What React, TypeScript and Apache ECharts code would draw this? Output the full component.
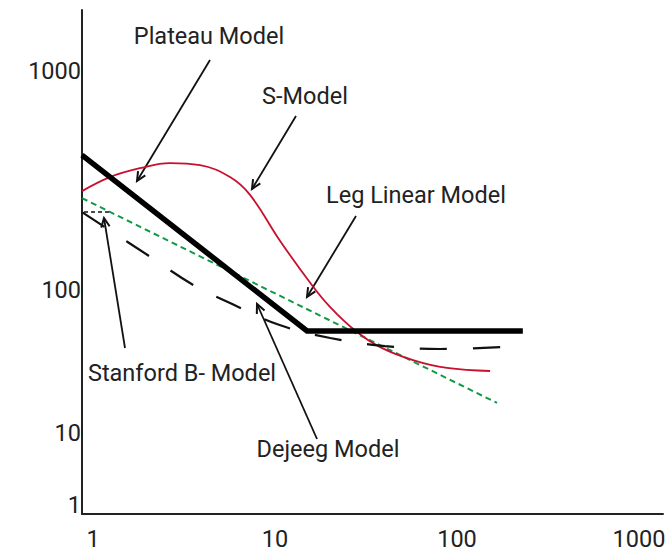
import React, { useEffect, useRef } from "react";
import * as echarts from "echarts";

// ---- data (log-log axes) ----
const plateauX = [0.87, 15, 230];
const plateauY = [413, 65, 65];

const sModelX = [0.87, 1.24, 1.81, 2.65, 3.87, 5.66, 7.29, 10.6, 15.6, 20.1, 28.2, 37.8, 57.3, 88.1, 152];
const sModelY = [283, 328, 360, 380, 372, 328, 272, 169, 108, 83.6, 64.3, 54.9, 47.9, 44.1, 42.7];

const legLinearX = [0.87, 166];
const legLinearY = [263, 30.5];

const dejeegX = [0.87, 2.06, 3.59, 5.66, 10.6, 20.1, 40.2, 80.7, 179];
const dejeegY = [227, 142, 105, 87.2, 69.2, 60.4, 55.5, 53.8, 54.9];

const stanfordX = [0.817, 1.27];
const stanfordY = [227, 227];

const xTickLabels = ["1", "10", "100", "1000"];
const yExtraLabels = ["10", "1"];

// ---- layout (pixels) ----
const W = 668;
const H = 554;
const FONT = "Roboto, 'Noto Sans', sans-serif";
const FS = 23.5;
const TXT = "#222";

const annotations = [
  { text: "Plateau Model", x: 209, y: 36, tail: [210, 60], head: [137, 181] },
  { text: "S-Model", x: 305, y: 96, tail: [296, 116], head: [252, 189] },
  { text: "Leg Linear Model", x: 416, y: 195, tail: [356, 216], head: [307, 297] },
  { text: "Stanford B- Model", x: 182, y: 373, tail: [125, 348], head: [104, 218] },
  { text: "Dejeeg Model", x: 328, y: 449, tail: [317, 439], head: [257, 304] },
];
const yExtraPos = [
  { x: 81, y: 433 },
  { x: 81, y: 505 },
];

const zip = (xs: number[], ys: number[]) => xs.map((x, i) => [x, ys[i]]);

function arrow(tail: number[], head: number[]) {
  const dx = head[0] - tail[0];
  const dy = head[1] - tail[1];
  const len = Math.hypot(dx, dy);
  const ux = dx / len;
  const uy = dy / len;
  const L = 10;
  const a = (25 * Math.PI) / 180;
  const rot = (ang: number) => [
    head[0] - L * (ux * Math.cos(ang) - uy * Math.sin(ang)),
    head[1] - L * (ux * Math.sin(ang) + uy * Math.cos(ang)),
  ];
  return [
    {
      type: "line",
      shape: { x1: tail[0], y1: tail[1], x2: head[0], y2: head[1] },
      style: { stroke: "#111", lineWidth: 1.8 },
      silent: true,
    },
    {
      type: "polyline",
      shape: { points: [rot(a), head, rot(-a)] },
      style: { stroke: "#111", lineWidth: 2, fill: null },
      silent: true,
    },
  ];
}

export default function App() {
  const ref = useRef<HTMLDivElement>(null);

  useEffect(() => {
    if (!ref.current) return;
    const chart = echarts.init(ref.current, null, { renderer: "svg" });

    const graphics: any[] = [];
    annotations.forEach((a) => {
      graphics.push({
        type: "text",
        x: a.x,
        y: a.y,
        silent: true,
        style: {
          text: a.text,
          fill: TXT,
          fontSize: FS,
          fontFamily: FONT,
          align: "center",
          verticalAlign: "middle",
        },
      });
      graphics.push(...arrow(a.tail, a.head));
    });
    yExtraLabels.forEach((t, i) => {
      graphics.push({
        type: "text",
        x: yExtraPos[i].x,
        y: yExtraPos[i].y,
        silent: true,
        style: {
          text: t,
          fill: TXT,
          fontSize: FS,
          fontFamily: FONT,
          align: "right",
          verticalAlign: "middle",
        },
      });
    });

    chart.setOption({
      animation: false,
      backgroundColor: "#fff",
      grid: { left: 82, right: 5, top: 10, bottom: 40, containLabel: false, outerBoundsMode: "none" },
      xAxis: {
        type: "log",
        logBase: 10,
        min: 0.87,
        max: 1355,
        axisLine: { show: true, lineStyle: { color: TXT, width: 2 } },
        axisTick: { show: false },
        splitLine: { show: false },
        axisLabel: {
          showMinLabel: false,
          showMaxLabel: false,
          color: TXT,
          fontSize: FS,
          fontFamily: FONT,
          margin: 13,
          formatter: (v: number) => {
            const s = String(Math.round(v));
            return xTickLabels.includes(s) ? s : "";
          },
        },
      },
      yAxis: {
        type: "log",
        logBase: 10,
        min: 9.49,
        max: 1901,
        axisLine: { show: true, lineStyle: { color: TXT, width: 2 } },
        axisTick: { show: false },
        splitLine: { show: false },
        axisLabel: {
          showMinLabel: false,
          showMaxLabel: false,
          color: TXT,
          fontSize: FS,
          fontFamily: FONT,
          margin: 1,
          formatter: (v: number) => (v > 50 && v < 1500 ? String(Math.round(v)) : ""),
        },
      },
      series: [
        {
          name: "Leg Linear Model",
          type: "line",
          data: zip(legLinearX, legLinearY),
          symbol: "none",
          lineStyle: { color: "#119a45", width: 2, type: [6, 4] },
        },
        {
          name: "S-Model",
          type: "line",
          data: zip(sModelX, sModelY),
          symbol: "none",
          smooth: 0.4,
          lineStyle: { color: "#c8102e", width: 1.8 },
        },
        {
          name: "Dejeeg Model",
          type: "line",
          data: zip(dejeegX, dejeegY),
          symbol: "none",
          smooth: 0.4,
          lineStyle: { color: "#111", width: 2.2, type: [27, 26] },
        },
        {
          name: "Stanford B- Model",
          type: "line",
          data: zip(stanfordX, stanfordY),
          symbol: "none",
          clip: false,
          lineStyle: { color: "#111", width: 1.5, type: [4, 3] },
        },
        {
          name: "Plateau Model",
          type: "line",
          data: zip(plateauX, plateauY),
          symbol: "none",
          lineStyle: { color: "#000", width: 5.5, join: "miter", cap: "butt" },
        },
      ],
      graphic: graphics,
    });

    return () => chart.dispose();
  }, []);

  return (
    <div
      ref={ref}
      style={{ position: "absolute", left: 0, top: 0, width: W, height: H, background: "#fff" }}
    />
  );
}
